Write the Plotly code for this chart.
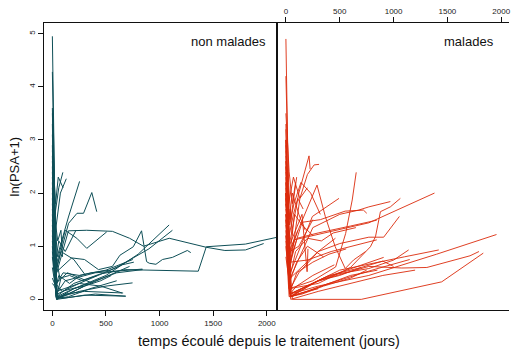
import plotly.graph_objects as go

# ---------------- data: non malades (time in days, ln(PSA+1)) ----------------
nm_time = [
    [0, 35, 90, 200, 400, 680],
    [0, 40, 120, 300, 660],
    [0, 25, 60, 98],
    [0, 30, 75, 130],
    [0, 45, 150, 254],
    [0, 40, 151, 230, 291, 368, 414],
    [0, 30, 180, 300, 430, 560, 630, 755, 832, 864, 879, 904, 966, 1027, 1120, 1259, 1291],
    [0, 40, 150, 320, 560, 720, 850, 1090, 1436, 1609, 1801, 1971],
    [0, 35, 200, 450, 680, 841, 1361, 1436, 1800, 2100],
    [0, 40, 200, 500, 800, 1089],
    [0, 45, 250, 600, 900, 1120],
    [0, 35, 250, 500, 748],
    [0, 40, 300, 687],
    [0, 30, 120, 228, 321, 507],
    [0, 40, 100, 250, 500, 750],
    [0, 30, 60, 160, 260, 360, 540, 650, 760],
    [0, 30, 90, 180, 300],
    [0, 25, 70, 160, 280, 420],
    [0, 35, 110, 250, 450, 650],
    [0, 30, 60, 120, 220],
    [0, 20, 45, 80],
    [0, 40, 150, 350, 600],
    [0, 30, 80, 200, 310],
    [0, 35, 60, 140, 260, 380],
    [0, 40, 300, 500, 720],
    [0, 30, 55, 100],
    [0, 25, 50, 80, 95],
    [0, 45, 200, 400, 600, 841],
    [0, 35, 120, 400, 840],
    [0, 20, 40],
    [0, 50, 150, 300, 450, 550],
]
nm_psa = [
    [4.95, 0.05, 0.02, 0.05, 0.10, 0.06],
    [4.28, 0.00, 0.10, 0.15, 0.12],
    [3.5, 1.6, 2.1, 2.39],
    [3.1, 1.3, 2.0, 2.27],
    [2.6, 0.8, 1.55, 2.22],
    [2.3, 0.6, 1.43, 1.62, 1.62, 2.01, 1.65],
    [2.5, 0.5, 0.78, 0.75, 0.56, 0.62, 0.83, 0.99, 1.29, 0.90, 0.71, 0.68, 0.66, 0.75, 0.79, 0.92, 0.88],
    [2.0, 0.5, 1.29, 1.30, 1.28, 1.15, 1.00, 1.15, 0.98, 0.92, 0.93, 1.05],
    [1.5, 0.05, 0.30, 0.48, 0.56, 0.55, 0.53, 0.99, 1.04, 1.17],
    [1.2, 0.05, 0.20, 0.45, 0.85, 1.40],
    [0.9, 0.10, 0.30, 0.60, 0.95, 1.30],
    [1.0, 0.02, 0.15, 0.25, 0.31],
    [0.8, 0.00, 0.08, 0.06],
    [2.1, 0.6, 1.30, 1.15, 0.96, 1.27],
    [1.8, 0.3, 0.50, 0.45, 0.55, 0.75],
    [1.3, 0.2, 0.45, 0.30, 0.45, 0.50, 0.55, 0.65, 0.70],
    [3.3, 0.3, 0.15, 0.20, 0.25],
    [2.9, 0.9, 0.40, 0.45, 0.35, 0.45],
    [2.7, 0.15, 0.20, 0.30, 0.25, 0.12],
    [1.9, 0.7, 1.1, 0.9, 1.3],
    [0.3, 0.25, 0.1, 0.4],
    [2.4, 0.02, 0.05, 0.20, 0.35],
    [1.6, 0.5, 0.9, 0.75, 0.45],
    [2.2, 0.3, 0.35, 0.50, 0.40, 0.30],
    [1.4, 0.0, 0.25, 0.42, 0.62],
    [2.8, 1.8, 2.3, 2.1],
    [3.6, 1.5, 1.1, 1.3, 0.8],
    [0.6, 0.02, 0.20, 0.35, 0.50, 0.56],
    [1.1, 0.10, 0.35, 0.50, 0.57],
    [0.4, 0.3, 0.2],
    [1.7, 0.05, 0.10, 0.25, 0.35, 0.45],
]

# ---------------- data: malades ----------------
m_time = [
    [0, 40, 100, 300],
    [0, 30, 120, 215, 225],
    [0, 40, 130, 200, 262, 308],
    [0, 30, 250, 462, 555, 616, 653],
    [0, 40, 246, 350, 493],
    [0, 30, 77, 770, 1380],
    [0, 40, 250, 500, 677, 770, 970],
    [0, 30, 300, 600, 785, 832, 878, 970, 1063],
    [0, 40, 300, 500, 770, 908, 1054],
    [0, 40, 300, 770, 1400, 1956],
    [0, 60, 700, 1447, 1833],
    [0, 45, 300, 770, 1076, 1309, 1710, 1793],
    [0, 35, 400, 770, 1001, 1140],
    [0, 40, 350, 700, 908],
    [0, 30, 289, 366, 458, 551, 628, 740],
    [0, 35, 150, 320, 550, 720, 751],
    [0, 30, 60, 90],
    [0, 25, 70, 130, 200],
    [0, 35, 80, 150, 250],
    [0, 30, 100, 200, 350],
    [0, 40, 150, 300, 500, 700],
    [0, 35, 100, 250, 450],
    [0, 45, 200, 400, 600, 850],
    [0, 30, 60, 120, 180],
    [0, 25, 50, 110],
    [0, 40, 120, 300, 460],
    [0, 35, 90, 200, 330, 440, 650],
    [0, 40, 100, 250, 400, 560],
    [0, 45, 300, 600, 900, 1200],
    [0, 50, 400, 800, 1150],
    [0, 30, 70, 110, 160],
    [0, 35, 75, 140, 230, 320],
    [0, 40, 200, 420, 844],
    [0, 30, 104, 300, 600, 844],
    [0, 40, 250, 500, 700, 900, 1000],
    [0, 30, 150, 350, 600, 750],
    [0, 25, 45, 70, 100],
    [0, 20, 40, 60],
    [0, 35, 120, 250],
    [0, 30, 150, 197, 205],
    [0, 45, 250, 500, 1100, 1420],
]
m_psa = [
    [4.90, 0.05, 0.10, 0.20],
    [3.3, 1.0, 2.0, 2.70, 2.45],
    [3.0, 0.6, 1.9, 2.35, 2.53, 2.54],
    [2.5, 0.2, 0.35, 0.61, 1.24, 1.87, 2.39],
    [2.8, 0.5, 1.56, 1.70, 1.90],
    [3.0, 0.8, 1.12, 1.44, 2.00],
    [2.2, 0.4, 1.35, 1.60, 1.68, 1.74, 1.84],
    [2.0, 0.2, 0.30, 0.60, 0.99, 1.18, 1.65, 1.74, 1.90],
    [2.3, 0.4, 0.90, 1.05, 1.17, 1.17, 1.56],
    [2.0, 0.1, 0.25, 0.45, 0.85, 1.22],
    [1.8, 0.0, 0.0, 0.33, 0.87],
    [1.5, 0.05, 0.35, 0.62, 0.59, 0.60, 0.82, 0.90],
    [1.6, 0.1, 0.45, 0.58, 0.74, 0.93],
    [1.2, 0.1, 0.40, 0.65, 0.79],
    [2.4, 0.9, 2.15, 1.56, 0.99, 0.58, 0.74, 0.90],
    [2.6, 0.7, 1.45, 1.50, 1.66, 1.68, 1.62],
    [3.5, 2.4, 1.8, 2.2],
    [3.0, 1.8, 2.3, 1.9, 2.1],
    [2.7, 0.8, 1.6, 1.4, 1.2],
    [2.2, 0.3, 0.7, 1.0, 0.8],
    [1.9, 0.05, 0.20, 0.35, 0.45, 0.60],
    [1.4, 0.1, 0.25, 0.45, 0.65],
    [1.7, 0.05, 0.15, 0.30, 0.45, 0.55],
    [2.5, 1.5, 2.0, 1.6, 1.3],
    [1.2, 0.6, 0.9, 1.3],
    [2.9, 0.2, 0.5, 0.9, 1.15],
    [2.1, 0.4, 0.9, 1.15, 1.10, 1.25, 1.35],
    [1.5, 0.15, 0.5, 0.7, 0.85, 0.95],
    [1.0, 0.0, 0.15, 0.30, 0.45, 0.55],
    [0.8, 0.05, 0.30, 0.55, 0.75],
    [2.0, 1.2, 1.6, 1.9, 1.7],
    [2.6, 1.4, 1.8, 2.2, 2.0, 1.6],
    [1.8, 0.7, 0.74, 0.90, 1.12],
    [2.0, 0.6, 1.15, 1.25, 1.38, 1.49],
    [1.3, 0.1, 0.30, 0.50, 0.60, 0.72, 0.62],
    [1.1, 0.05, 0.10, 0.25, 0.40, 0.55],
    [4.2, 2.2, 1.5, 1.9, 2.3],
    [1.6, 1.4, 1.7, 1.2],
    [1.9, 0.9, 1.0, 1.5],
    [3.2, 1.0, 1.6, 0.52, 0.95],
    [1.6, 0.05, 0.30, 0.55, 0.80, 0.93],
]

x_ticks = [0, 500, 1000, 1500, 2000]
y_ticks = [0, 1, 2, 3, 4, 5]
panel_labels = ["non malades", "malades"]
x_title = "temps écoulé depuis le traitement (jours)"
y_title = "ln(PSA+1)"

TEAL = "#0e4f57"
RED = "#db2a0b"
FONT = "Liberation Sans, Arial, Helvetica, sans-serif"

fig = go.Figure()
for t, v in zip(nm_time, nm_psa):
    fig.add_trace(go.Scatter(x=t, y=v, mode="lines", xaxis="x", yaxis="y",
                             line=dict(color=TEAL, width=1), hoverinfo="skip"))
for t, v in zip(m_time, m_psa):
    fig.add_trace(go.Scatter(x=t, y=v, mode="lines", xaxis="x2", yaxis="y2",
                             line=dict(color=RED, width=0.9), hoverinfo="skip"))

split = (278.5 - 44) / 467.0
tickfont = dict(family=FONT, size=8, color="#222")
axcommon = dict(showgrid=False, zeroline=False, showline=True, linecolor="#111",
                linewidth=1, ticks="outside", ticklen=5, tickcolor="#111",
                tickfont=tickfont, ticklabeloverflow="allow")

fig.update_layout(
    width=511, height=349,
    margin=dict(l=44, r=0, t=23, b=39),
    paper_bgcolor="white", plot_bgcolor="white",
    showlegend=False,
    font=dict(family=FONT, color="#111"),
    xaxis=dict(domain=[0, split], range=[-78, 2100], anchor="y", side="bottom",
               mirror=True, tickvals=x_ticks, ticktext=[str(v) for v in x_ticks],
               **axcommon),
    yaxis=dict(domain=[0, 1], range=[-0.2, 5.2], anchor="x", mirror=True,
               tickvals=y_ticks, tickangle=-90, **axcommon),
    xaxis2=dict(domain=[split, 1], range=[-78, 2072], anchor="y2", side="top",
                mirror=True, tickvals=x_ticks, ticktext=[str(v) for v in x_ticks],
                **axcommon),
    yaxis2=dict(domain=[0, 1], range=[-0.2, 5.2], anchor="x2", showgrid=False,
                zeroline=False, showline=True, linecolor="#111", linewidth=1,
                showticklabels=False, ticks=""),
)

fig.add_annotation(text=panel_labels[0], xref="x domain", yref="y domain",
                   x=0.96, y=0.97, xanchor="right", yanchor="top", showarrow=False,
                   font=dict(family=FONT, size=13, color="#111"))
fig.add_annotation(text=panel_labels[1], xref="x2 domain", yref="y2 domain",
                   x=0.945, y=0.97, xanchor="right", yanchor="top", showarrow=False,
                   font=dict(family=FONT, size=13, color="#111"))
fig.add_annotation(text=x_title, xref="paper", yref="paper", x=0.484, y=0,
                   yshift=-31, xanchor="center", yanchor="middle", showarrow=False,
                   font=dict(family=FONT, size=14.5, color="#111"))
fig.add_annotation(text=y_title, xref="paper", yref="paper", x=0, y=0.5,
                   xshift=-30, textangle=-90, xanchor="center", yanchor="middle",
                   showarrow=False, font=dict(family=FONT, size=13, color="#111"))

fig.write_html("out.html", config={"displayModeBar": False},
               post_script="document.body.style.margin='0';document.body.style.overflow='hidden';")
